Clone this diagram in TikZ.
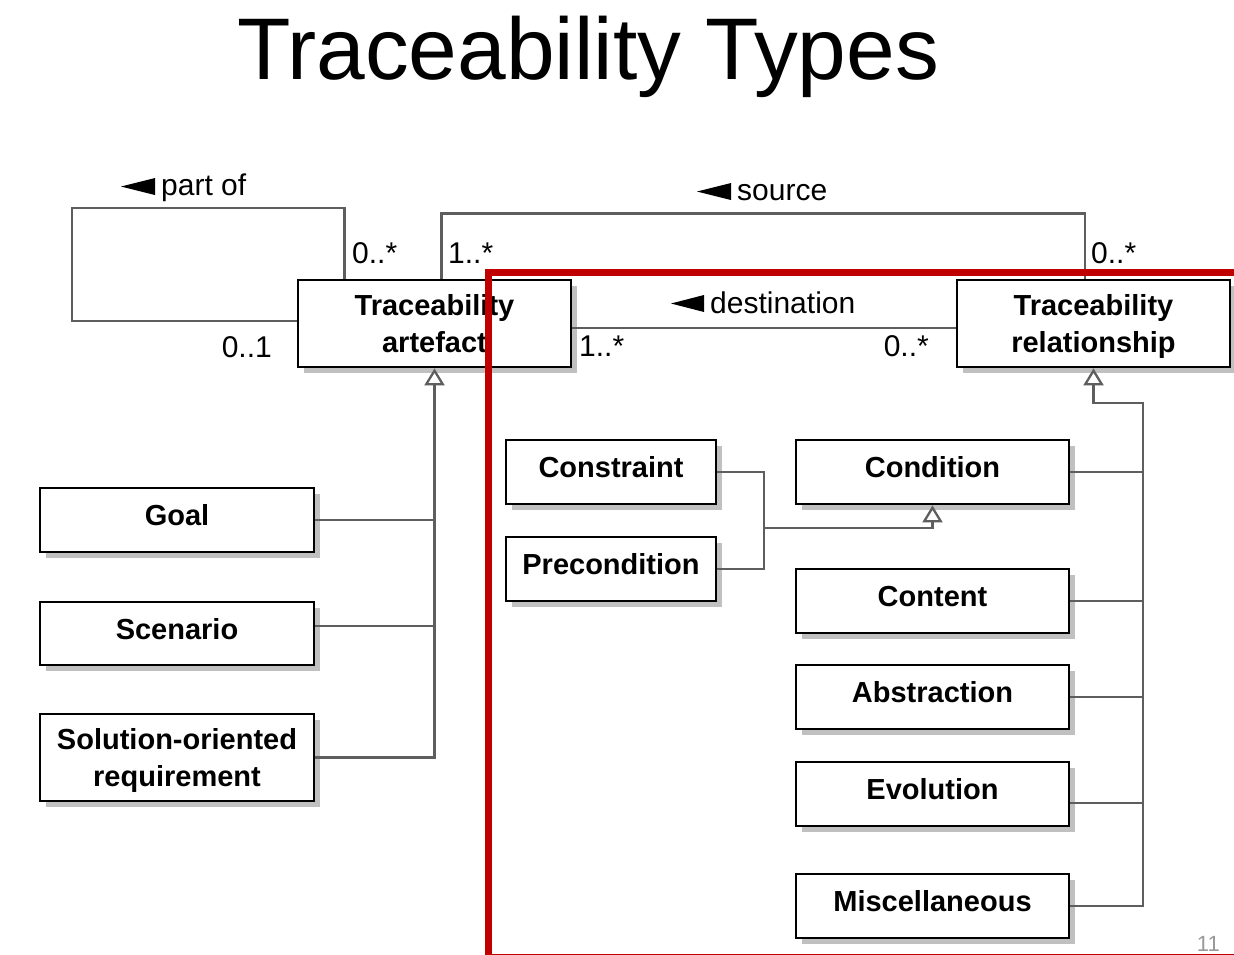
\documentclass[tikz,border=0pt]{standalone}
\usepackage{fontspec}
\setmainfont{Liberation Sans}
\usetikzlibrary{arrows.meta,shadows}
\definecolor{linegray}{HTML}{5E5E5E}
\definecolor{framered}{HTML}{C00000}
\definecolor{shadowgray}{HTML}{C0C0C0}
\definecolor{pagegray}{HTML}{999999}
\begin{document}
\begin{tikzpicture}[x=1pt,y=-1pt,
  conn/.style={draw=linegray, line width=2.3pt},
  genarrow/.style={-{Triangle[length=17pt,width=20pt,fill=white,line width=2.3pt]}},
  umlbox/.style={draw=black, line width=2.8pt, fill=white, inner sep=0pt,
    align=center, font=\bfseries\fontsize{29}{37}\selectfont,
    drop shadow={shadow xshift=6pt, shadow yshift=-6pt, fill=shadowgray, draw=none, opacity=1}},
  oneline/.style={text height=21pt, text depth=10pt},
  twoline/.style={text height=58pt, text depth=0pt},
  mult/.style={inner sep=0pt, font=\fontsize{30}{36}\selectfont},
  rolelabel/.style={inner sep=0pt, font=\fontsize{30}{36}\selectfont, anchor=base west},
]
\useasboundingbox (0,0) rectangle (1234,954);
\clip (0,0) rectangle (1234,954);
\fill[white] (0,0) rectangle (1234,954);

% title
\node[font=\fontsize{87.5}{92}\selectfont, anchor=base, inner sep=0pt] (title) at (588,79) {Traceability Types};

% classes
\node[umlbox, twoline, minimum width=273pt, minimum height=87pt] (art) at (434.5,323.5) {Traceability\\artefact};
\node[umlbox, twoline, minimum width=273pt, minimum height=87pt] (rel) at (1093.5,323.5) {Traceability\\relationship};

\node[umlbox, oneline, minimum width=274pt, minimum height=64pt] (goal) at (177,520) {Goal};
\node[umlbox, oneline, minimum width=274pt, minimum height=63pt] (scen) at (177,633.5) {Scenario};
\node[umlbox, twoline, minimum width=274pt, minimum height=87pt] (sol) at (177,757.5) {Solution-oriented\\requirement};

\node[umlbox, oneline, minimum width=210pt, minimum height=64pt] (cons) at (611,472) {Constraint};
\node[umlbox, oneline, minimum width=210pt, minimum height=64pt] (prec) at (611,569) {Precondition};

\node[umlbox, oneline, minimum width=273pt, minimum height=64pt] (cond) at (932.5,472) {Condition};
\node[umlbox, oneline, minimum width=273pt, minimum height=64pt] (cont) at (932.5,601) {Content};
\node[umlbox, oneline, minimum width=273pt, minimum height=64pt] (abst) at (932.5,697) {Abstraction};
\node[umlbox, oneline, minimum width=273pt, minimum height=64pt] (evol) at (932.5,794) {Evolution};
\node[umlbox, oneline, minimum width=273pt, minimum height=64pt] (misc) at (932.5,906) {Miscellaneous};

% association: part of (self loop)
\draw[conn] ([yshift=2.5pt]art.west) -| (72,208) -| ([xshift=48pt]art.north west);
% association: source
\draw[conn] ([xshift=145pt]art.north west) -- ++(0,-65) -| ([xshift=-8.5pt]rel.north);
% association: destination
\draw[conn] ([yshift=-4.5pt]art.east) -- ([yshift=-4.5pt]rel.west);

% role names with reading-direction triangles
\node[rolelabel] (partof) at (161,195) {part of};
\fill ([shift={(-6,-17)}]partof.base west) -- ++(0,17) -- ++(-34,-8.5) -- cycle;
\node[rolelabel] (source) at (737,200) {source};
\fill ([shift={(-6,-17)}]source.base west) -- ++(0,17) -- ++(-34,-8.5) -- cycle;
\node[rolelabel] (dest) at (710,313) {destination};
\fill ([shift={(-6,-18)}]dest.base west) -- ++(0,17) -- ++(-33,-8.5) -- cycle;

% multiplicities
\node[mult, anchor=base west] (m1) at (352,263) {0..*};
\node[mult, anchor=base west] (m2) at (448,263) {1..*};
\node[mult, anchor=base east] (m3) at (272,357) {0..1};
\node[mult, anchor=base west] (m4) at (579,356) {1..*};
\node[mult, anchor=base east] (m5) at (929,356) {0..*};
\node[mult, anchor=base west] (m6) at (1091,263) {0..*};

% generalisation: artefact subtypes
\draw[conn, genarrow] (sol.east) -| (art.south);
\draw[conn] (goal.east) -- (goal.east -| art.south);
\draw[conn] ([yshift=7.5pt]scen.east) -- ([yshift=7.5pt]scen.east -| art.south);

% generalisation: condition subtypes
\coordinate (condbus) at (764,528);
\draw[conn, genarrow] (prec.east) -| (condbus) -| (cond.south);
\draw[conn] (cons.east) -| (condbus);

% generalisation: relationship subtypes
\coordinate (relbus) at (1143,403);
\draw[conn, genarrow] (misc.east) -| (relbus) -| (rel.south);
\draw[conn] (cond.east) -- (cond.east -| relbus);
\draw[conn] (cont.east) -- (cont.east -| relbus);
\draw[conn] (abst.east) -- (abst.east -| relbus);
\draw[conn] ([yshift=-9pt]evol.east) -- ([yshift=-9pt]evol.east -| relbus);

% highlight frame
\draw[framered, line width=7pt] (488,272) rectangle (1250,957);

% page number
\node[inner sep=0pt, font=\fontsize{22}{26}\selectfont, text=pagegray, anchor=base east] (pagenum) at (1220,951) {11};
\end{tikzpicture}
\end{document}
